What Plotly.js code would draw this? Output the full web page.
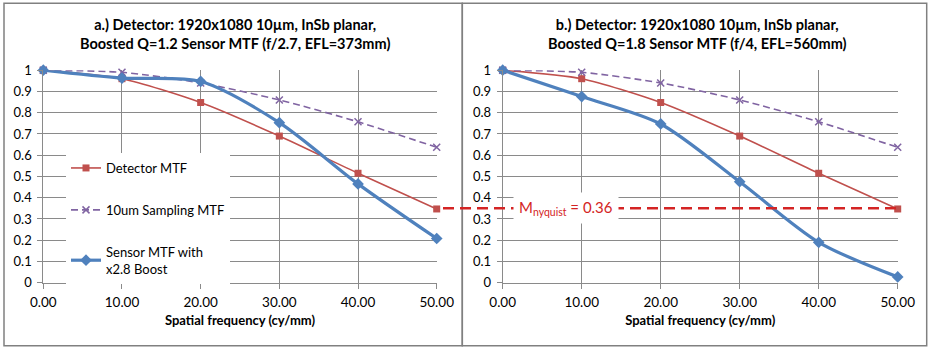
<!DOCTYPE html>
<html><head><meta charset="utf-8">
<script src="https://cdn.plot.ly/plotly-3.0.1.min.js"></script>
<style>html,body{margin:0;padding:0;background:#fff}#c{width:934px;height:351px}</style>
</head><body><div id="c"></div>
<script>
const freq = [0, 10, 20, 30, 40, 50];
const xTicks = [0, 10, 20, 30, 40, 50];
const detectorMTF = [1, 0.96, 0.848, 0.69, 0.515, 0.347];
const samplingMTF = [1, 0.99, 0.94, 0.86, 0.757, 0.637];
const sensorA = [1, 0.963, 0.947, 0.753, 0.465, 0.208];
const sensorB = [1, 0.876, 0.747, 0.475, 0.19, 0.027];
const nyquistLevel = 0.35;
const nyquistLabel = 'M<sub>nyquist</sub> = 0.36';
const titleA = 'a.) Detector: 1920x1080 10µm, InSb planar,<br>Boosted Q=1.2 Sensor MTF (f/2.7, EFL=373mm)';
const titleB = 'b.) Detector: 1920x1080 10µm, InSb planar,<br>Boosted Q=1.8 Sensor MTF (f/4, EFL=560mm)';
const names = ['Detector MTF', '10um Sampling MTF', 'Sensor MTF with<br>x2.8 Boost'];

const W = 934, H = 351;
const px = v => v / W, py = v => 1 - v / H;
const RED = '#C0504D', BLUE = '#4F81BD', PURPLE = '#8064A2';
const FONT = 'Lato, "Open Sans", sans-serif';

function traces(xa, ya, sensor, show) {
  return [
    {x: freq, y: detectorMTF, xaxis: xa, yaxis: ya, name: names[0], legendgroup: 'd', showlegend: show,
     mode: 'lines+markers', cliponaxis: false, line: {color: RED, width: 1.6, shape: 'spline', smoothing: 0.7},
     marker: {symbol: 'square', size: 7, color: RED}},
    {x: freq, y: samplingMTF, xaxis: xa, yaxis: ya, name: names[1], legendgroup: 's', showlegend: show,
     mode: 'lines+markers', cliponaxis: false, line: {color: PURPLE, width: 1.6, dash: '7px,4px', shape: 'spline', smoothing: 0.7},
     marker: {symbol: 'x-thin', size: 7, color: PURPLE, line: {color: PURPLE, width: 1.5}}},
    {x: freq, y: sensor, xaxis: xa, yaxis: ya, name: names[2], legendgroup: 'b', showlegend: show,
     mode: 'lines+markers', cliponaxis: false, line: {color: BLUE, width: 3.2, shape: 'spline', smoothing: 0.8},
     marker: {symbol: 'diamond', size: 9, color: BLUE}}
  ];
}
const data = [...traces('x', 'y', sensorA, true), ...traces('x2', 'y2', sensorB, false)];

function xax(dom, anchor) {
  return {domain: dom, anchor: anchor, range: [0, 50], tickvals: xTicks, tickformat: '.2f',
    showgrid: true, gridcolor: '#8a8a8a', gridwidth: 1, zeroline: false,
    showline: true, linecolor: '#8a8a8a', linewidth: 1, ticks: 'outside', ticklen: 5, tickcolor: '#8a8a8a',
    tickfont: {family: FONT, size: 13.5, color: '#000'}, ticklabelstandoff: 2,
    title: {text: 'Spatial frequency (cy/mm)', font: {family: FONT, size: 13, color: '#000', weight: 'bold'}, standoff: 7},
    fixedrange: true};
}
function yax(anchor) {
  return {domain: [0.1946, 0.8], anchor: anchor, range: [0, 1], dtick: 0.1, tick0: 0,
    showgrid: true, gridcolor: '#8a8a8a', gridwidth: 1, zeroline: false,
    showline: true, linecolor: '#8a8a8a', linewidth: 1, ticks: 'outside', ticklen: 5, tickcolor: '#8a8a8a',
    tickfont: {family: FONT, size: 13, color: '#000'}, ticklabelstandoff: 3, fixedrange: true};
}

const layout = {
  width: W, height: H, margin: {l: 0, r: 0, t: 0, b: 0},
  paper_bgcolor: '#fff', plot_bgcolor: '#fff', showlegend: true,
  font: {family: FONT, color: '#000'},
  xaxis: xax([px(43.3), px(436.7)], 'y'),
  yaxis: yax('x'),
  xaxis2: xax([px(502.7), px(897.7)], 'y2'),
  yaxis2: yax('x2'),
  legend: {x: px(66), y: py(153), xanchor: 'left', yanchor: 'top', bgcolor: '#fff',
    font: {family: FONT, size: 13, color: '#000'}, traceorder: 'grouped', tracegroupgap: 22,
    itemwidth: 30},
  shapes: [
    {type: 'rect', xref: 'paper', yref: 'paper', x0: px(4), x1: px(462.3), y0: py(345.7), y1: py(3.3),
     line: {color: '#808080', width: 1.5}, layer: 'below'},
    {type: 'rect', xref: 'paper', yref: 'paper', x0: px(462.3), x1: px(926.7), y0: py(345.7), y1: py(3.3),
     line: {color: '#808080', width: 1.5}, layer: 'below'},
    {type: 'line', xref: 'paper', yref: 'y2', x0: px(443), x1: px(897), y0: nyquistLevel, y1: nyquistLevel,
     line: {color: '#D42424', width: 2.5, dash: '11px,6px'}, layer: 'above'}
  ],
  annotations: [
    {text: '<b>' + titleA + '</b>', xref: 'paper', yref: 'paper', x: px(235), y: py(34), xanchor: 'center', yanchor: 'middle',
     showarrow: false, font: {family: FONT, size: 14.5, color: '#000'}},
    {text: '<b>' + titleB + '</b>', xref: 'paper', yref: 'paper', x: px(697), y: py(34), xanchor: 'center', yanchor: 'middle',
     showarrow: false, font: {family: FONT, size: 14.5, color: '#000'}},
    {text: nyquistLabel, xref: 'paper', yref: 'y2', x: px(566), y: nyquistLevel, xanchor: 'center', yanchor: 'middle',
     showarrow: false, bgcolor: '#fff', borderpad: 5, font: {family: FONT, size: 15, color: '#D42424'}}
  ]
};
Plotly.newPlot('c', data, layout, {staticPlot: true});
</script></body></html>
